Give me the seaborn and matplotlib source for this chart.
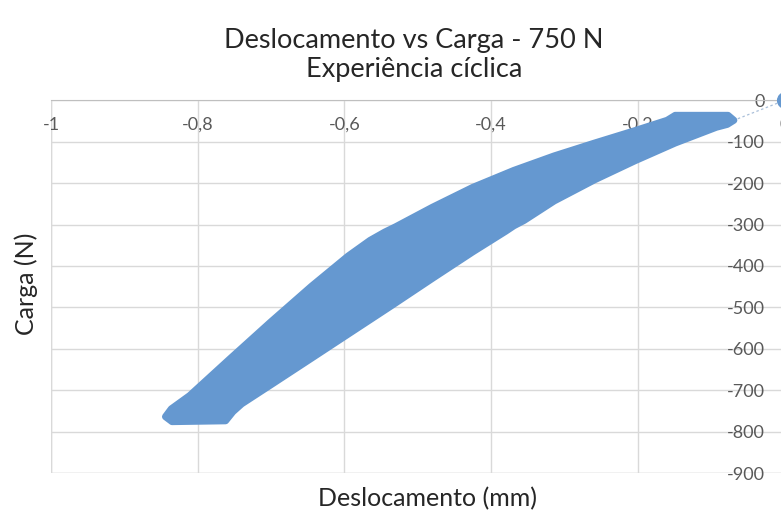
import matplotlib
matplotlib.use("Agg")
from matplotlib import pyplot as plt
import seaborn as sns
import numpy as np
import pandas

# Outline of the cyclic band
# upper branch, from the bottom-left tip to the top-right end
upper_x = [-0.844, -0.836, -0.811, -0.756, -0.701, -0.645, -0.595, -0.565, -0.545, -0.530,
           -0.480, -0.425, -0.369, -0.314, -0.259, -0.204, -0.160, -0.149, -0.077, -0.069]
upper_y = [-764, -745, -713, -624, -536, -449, -376, -338, -318, -305,
           -258, -210, -169, -134, -103, -73, -48, -36, -36, -48]
# lower branch, from the top-right end back to the tip
lower_x = [-0.069, -0.078, -0.093, -0.149, -0.204, -0.259, -0.314, -0.355, -0.369, -0.380,
           -0.425, -0.480, -0.535, -0.590, -0.645, -0.701, -0.740, -0.752, -0.762, -0.835]
lower_y = [-48, -58, -65, -103, -146, -192, -243, -290, -303, -316,
           -366, -430, -495, -559, -623, -688, -733, -752, -774, -776]

# first reading and the jump into the band
start_x = [0.0, -0.069]
start_y = [0.0, -48]

x_ticks = [-1, -0.8, -0.6, -0.4, -0.2, 0]
x_labels = ["-1", "-0,8", "-0,6", "-0,4", "-0,2", "0"]
y_ticks = [0, -100, -200, -300, -400, -500, -600, -700, -800, -900]

blue = "#6598D0"
grid = "#d9d9d9"

sns.set_style("white")
plt.rcParams['font.family'] = ['Lato', 'DejaVu Sans']

fig = plt.figure(figsize=(7.81, 5.14), dpi=100)
ax = fig.add_axes([51 / 781, 41 / 514, 733.5 / 781, 372.6 / 514])

band = pandas.DataFrame({
    'x': upper_x + lower_x,
    'y': upper_y + lower_y,
})
ax.fill(band['x'], band['y'], color=blue, lw=5, ec=blue, joinstyle='round', zorder=3)

start = pandas.DataFrame({'x': start_x, 'y': start_y})
sns.lineplot(data=start, x='x', y='y', ax=ax, sort=False, color="#a9bfd9",
             lw=0.9, linestyle=(0, (2, 2)), zorder=2)
sns.scatterplot(data=start.iloc[:1], x='x', y='y', ax=ax, color=blue, s=130,
                edgecolor=blue, zorder=4, clip_on=False)

ax.set_xlim(-1, 0)
ax.set_ylim(-900, 0)
ax.set_xticks(x_ticks)
ax.set_xticklabels(x_labels)
ax.set_yticks(y_ticks)
ax.set_yticklabels([str(v) for v in y_ticks])

# Excel style: axes cross at the top-right corner
ax.spines['bottom'].set_position(('data', 0))
ax.spines['left'].set_position(('data', 0))
ax.spines['bottom'].set_color("#bfbfbf")
ax.spines['left'].set_color("#bfbfbf")
ax.spines['top'].set_visible(False)
ax.spines['right'].set_visible(False)
ax.grid(True, color=grid, lw=1)
ax.set_axisbelow(True)
ax.tick_params(axis='x', length=0, pad=12, labelsize=13, labelcolor="#595959")
ax.tick_params(axis='y', length=0, pad=14, labelsize=13, labelcolor="#595959")
ax.set_xlabel("")
ax.set_ylabel("")

# frame lines at the far edges (left and bottom gridlines)
ax.axvline(-1, color=grid, lw=1, zorder=0)
ax.axhline(-900, color=grid, lw=1, zorder=0)

fig.text(414 / 781, 1 - 41 / 514, "Deslocamento vs Carga - 750 N", ha='center', va='center', fontsize=19.5)
fig.text(414 / 781, 1 - 70 / 514, "Experiência cíclica", ha='center', va='center', fontsize=19.5)
fig.text(428 / 781, 1 - 499 / 514, "Deslocamento (mm)", ha='center', va='center', fontsize=18)
fig.text(26 / 781, 1 - 284 / 514, "Carga (N)", ha='center', va='center', fontsize=18, rotation=90)

fig.savefig("out.png", dpi=100)
